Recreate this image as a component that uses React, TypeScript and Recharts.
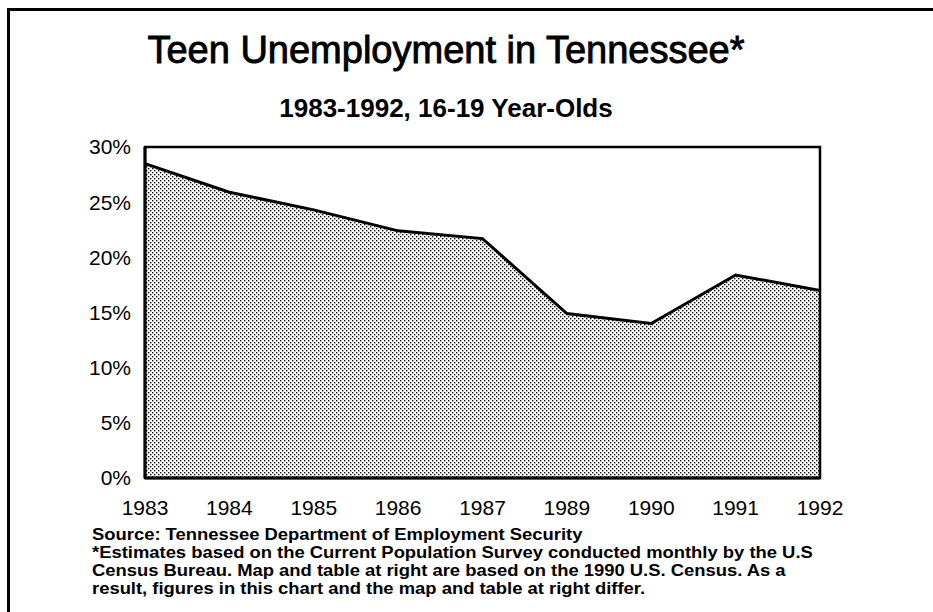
import React from "react";
import {
  AreaChart, Area, XAxis, YAxis, ReferenceArea,
} from "recharts";

// Teen unemployment rate (%), Tennessee, 16-19 year-olds (no 1988 point in the source)
const years = ["1983", "1984", "1985", "1986", "1987", "1989", "1990", "1991", "1992"];
const rates = [28.5, 25.9, 24.3, 22.4, 21.7, 14.9, 14.0, 18.4, 17.0];

const yTicks = [0, 5, 10, 15, 20, 25, 30];
const majorInnerTicks = [5, 10, 15, 20, 25];
const minorInnerTicks = [
  1, 2, 3, 4, 6, 7, 8, 9, 11, 12, 13, 14, 16, 17, 18, 19, 21, 22, 23, 24, 26, 27, 28, 29,
];

const footnote = [
  "Source: Tennessee Department of Employment Security",
  "*Estimates based on the Current Population Survey conducted monthly by the U.S",
  "Census Bureau. Map and table at right are based on the 1990 U.S. Census. As a",
  "result, figures in this chart and the map and table at right differ.",
];

const FONT = "'Liberation Sans', Arial, sans-serif";
const W = 933;
const H = 612;

const data = years.map((year, i) => ({ year, rate: rates[i] }));

const noTick = () => <g />;

export default function App() {
  return (
    <div
      style={{
        position: "absolute",
        left: 0,
        top: 0,
        width: W,
        height: H,
        background: "#fff",
        fontFamily: FONT,
        color: "#000",
        overflow: "hidden",
      }}
    >
      {/* page frame (top + left edges only, rest is cropped) */}
      <div style={{ position: "absolute", left: 7, top: 8, width: W - 7, height: 3, background: "#000" }} />
      <div style={{ position: "absolute", left: 7, top: 8, width: 3, height: H - 8, background: "#000" }} />

      <div
        style={{
          position: "absolute", left: 0, top: 31, width: 892, textAlign: "center",
          fontSize: 38, lineHeight: 1, WebkitTextStroke: "0.9px #000",
        }}
      >
        Teen Unemployment in Tennessee*
      </div>
      <div
        style={{
          position: "absolute", left: 0, top: 95, width: 892, textAlign: "center",
          fontSize: 26, lineHeight: 1, fontWeight: "bold",
        }}
      >
        1983-1992, 16-19 Year-Olds
      </div>

      <div style={{ position: "absolute", left: 0, top: 0 }}>
        <AreaChart
          width={W}
          height={H}
          data={data}
          margin={{ top: 147, right: 113, bottom: 104, left: 85 }}
        >
          <defs>
            <pattern id="stipple" width="4" height="4" patternUnits="userSpaceOnUse">
              <rect width="4" height="4" fill="#fff" />
              <rect x="0" y="0" width="1.4" height="1.4" fill="#111" />
              <rect x="2" y="2" width="1.4" height="1.4" fill="#111" />
            </pattern>
          </defs>
          <XAxis
            dataKey="year"
            interval={0}
            height={30}
            axisLine={{ stroke: "#000", strokeWidth: 3 }}
            tickLine={false}
            tickSize={20}
            tick={{ fill: "#000", fontSize: 21, fontFamily: FONT }}
          />
          <YAxis
            yAxisId="main"
            type="number"
            domain={[0, 30]}
            ticks={yTicks}
            tickFormatter={(v) => `${v}%`}
            width={60}
            axisLine={{ stroke: "#000", strokeWidth: 3 }}
            tickLine={false}
            tickSize={12}
            tick={{ fill: "#000", fontSize: 21, fontFamily: FONT }}
          />
          <YAxis
            yAxisId="major"
            type="number"
            mirror
            domain={[0, 30]}
            ticks={majorInnerTicks}
            axisLine={false}
            tickSize={7}
            tickLine={{ stroke: "#000", strokeWidth: 2 }}
            tick={noTick}
          />
          <YAxis
            yAxisId="minor"
            type="number"
            mirror
            domain={[0, 30]}
            ticks={minorInnerTicks}
            axisLine={false}
            tickSize={3}
            tickLine={{ stroke: "#000", strokeWidth: 1.5 }}
            tick={noTick}
          />
          <Area
            yAxisId="main"
            type="linear"
            dataKey="rate"
            stroke="#000"
            strokeWidth={3}
            fill="url(#stipple)"
            fillOpacity={1}
            dot={false}
            activeDot={false}
            isAnimationActive={false}
          />
          <ReferenceArea
            yAxisId="main"
            x1="1983"
            x2="1992"
            y1={0}
            y2={30}
            fill="none"
            stroke="#000"
            strokeWidth={2.5}
          />
        </AreaChart>
      </div>

      <div
        style={{
          position: "absolute", left: 92, top: 526, fontSize: 16, lineHeight: "18px",
          fontWeight: "bold", whiteSpace: "pre",
          transform: "scaleX(1.15)", transformOrigin: "left top",
        }}
      >
        {footnote.map((line) => (
          <div key={line}>{line}</div>
        ))}
      </div>
    </div>
  );
}
